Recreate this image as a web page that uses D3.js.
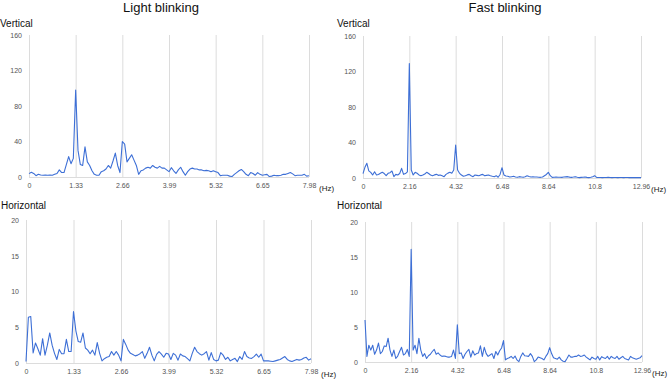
<!DOCTYPE html>
<html>
<head>
<meta charset="utf-8">
<script src="https://cdn.jsdelivr.net/npm/d3@7"></script>
<style>
  body { margin: 0; background: #fff; }
  svg { display: block; font-family: "Liberation Sans", Arial, sans-serif; }
  .grid line { stroke: #dcdcdc; stroke-width: 1; }
  .tick text { fill: #555; }
</style>
</head>
<body>
<div id="chart"></div>
<script>
// frequency grid steps (Hz per bin)
const lightStep = 0.0665;
const fastStep = 0.09;

// tick labels
const lightTicks = [0, 1.33, 2.66, 3.99, 5.32, 6.65, 7.98];
const fastTicks = [0, 2.16, 4.32, 6.48, 8.64, 10.8, 12.96];
const vertTicks = [0, 40, 80, 120, 160];
const horizTicks = [0, 5, 10, 15, 20];

// Light blinking, vertical (121 bins, 0 - 7.98 Hz)
const lightVertical = [
  3.8, 5.3, 4, 1.5, 3, 2.2, 2, 2.2, 2, 2.2,
  2, 3, 4, 8, 5, 5, 14, 23, 15, 21,
  98, 30, 14, 13, 34, 17, 13, 7, 3, 2,
  2, 6, 7, 9, 13, 10, 18, 27, 13, 5,
  40, 37, 17, 21, 25, 19, 13, 3, 7, 8,
  10, 11, 10, 13, 11, 10, 12, 10, 10, 8,
  6, 10.5, 7, 4, 8, 11, 6, 2, 6, 9,
  10, 9, 9, 8, 8, 7, 7.5, 7, 6, 7,
  6, 5, 1.5, 2, 2, 2, 1, 0.5, 3, 5,
  7, 8.5, 6, 3, 1.5, 5, 4, 2, 5, 3,
  2, 2.5, 3, 0.5, 1, 2, 1.5, 1.5, 2, 3,
  3, 4, 5, 3.5, 1.5, 2, 2, 2, 3, 1, 1.5
];

// Light blinking, horizontal
const lightHorizontal = [
  0.2, 6.4, 6.5, 1.4, 2.8, 2.0, 1.1, 3.4, 1.1, 2.5,
  4.2, 2.5, 1.35, 0.5, 1.9, 1.3, 1.3, 3.3, 1.6, 1.6,
  7.2, 4.5, 3.0, 2.9, 4.2, 2.1, 1.8, 1.3, 1.8, 1.1,
  2.85, 1.35, 0.3, 0.6, 0.8, 0.9, 1.6, 1.1, 1.6, 1.1,
  0.3, 3.3, 2.6, 1.8, 1.35, 1.2, 1.0, 1.1, 1.3, 1.6,
  0.65, 1.35, 2.2, 1.1, 0.3, 1.2, 1.6, 1.25, 0.8, 1.35,
  1.25, 0.5, 1.35, 1.1, 0.4, 1.25, 1.0, 0.9, 0.6, 0.3,
  1.35, 2.2, 1.6, 1.3, 1.1, 1.3, 1.6, 0.4, 1.45, 0.5,
  0.3, 0.4, 1.45, 1.1, 0.5, 0.8, 0.3, 0.5, 0.65, 0.2,
  0.9, 0.5, 1.6, 0.9, 0.7, 0.65, 0.9, 1.25, 0.8, 1.25,
  0.3, 0.3, 0.3, 0.25, 0.2, 0.3, 0.4, 0.5, 0.7, 0.9,
  0.5, 0.3, 0.2, 0.35, 0.5, 0.4, 0.5, 0.7, 0.8, 0.4, 0.6
];

// Fast blinking, vertical (145 bins, 0 - 12.96 Hz)
const fastVertical = [
  5, 12, 16.5, 8, 6.4, 3.4, 7, 3.4, 4, 5.3,
  6.4, 5, 2.6, 5.3, 6, 7.9, 1.5, 4.1, 3.4, 5,
  10.9, 4.1, 5, 7, 129, 9, 3.4, 6.4, 5.3, 3.5,
  2.6, 3.4, 4.5, 6.4, 5, 3.4, 2.6, 3.5, 4.1, 3,
  3.4, 2.5, 1.5, 4.1, 5.5, 6.4, 5.3, 9, 37, 9,
  5.3, 3.4, 2, 2.6, 3.5, 4.1, 2.5, 1.5, 3.4, 3,
  2.6, 3.5, 4.1, 2.6, 3, 3.4, 2.5, 1.9, 1.5, 2.6,
  0.8, 4, 11.6, 3.4, 2.2, 1.9, 1.1, 1.5, 1.9, 1.2,
  0.75, 1.5, 1.2, 0.75, 1.5, 2.6, 1.8, 1.1, 1.3, 1.1,
  1.1, 0.9, 0.75, 1.2, 2.6, 4, 6.4, 2.6, 0.75, 0.9,
  1.1, 0.9, 0.8, 0.75, 1.1, 1.3, 1.5, 1, 0.75, 1.1,
  1.5, 0.9, 0.4, 0.7, 0.9, 1.1, 0.7, 0.4, 0.9, 1.5,
  2.6, 0.75, 0.6, 0.5, 0.4, 0.6, 0.5, 0.7, 0.5, 0.4,
  0.6, 0.5, 0.4, 0.6, 0.5, 0.4, 0.5, 0.6, 0.4, 0.5,
  0.4, 0.5, 0.4, 0.5, 0.4
];

// Fast blinking, horizontal
const fastHorizontal = [
  6, 0.8, 2.4, 1.7, 2.4, 1.1, 1.7, 2.7, 1.2, 1.5,
  2.3, 2.2, 3.4, 1.7, 0.8, 1.7, 0.5, 0.85, 1.5, 2.1,
  1.0, 1.2, 1.8, 0.8, 16.1, 1.7, 2.4, 1.2, 3.4, 1.7,
  0.8, 1.2, 0.5, 0.9, 1.1, 1.5, 1.8, 1.1, 1.3, 1.0,
  0.8, 0.85, 0.8, 0.7, 0.7, 0.8, 1.7, 0.5, 5.3, 1.2,
  1.3, 0.5, 1.1, 1.5, 1.8, 0.7, 1.6, 1.0, 1.2, 1.3,
  2.3, 0.8, 2.1, 1.2, 0.8, 1.0, 1.2, 0.5, 1.5, 1.0,
  1.6, 2.0, 3.05, 0.3, 0.5, 0.6, 0.8, 0.5, 0.85, 0.3,
  0.05, 0.8, 1.3, 0.9, 0.85, 0.8, 1.2, 0.8, 0.05, 0.3,
  0.7, 0.6, 0.5, 0.3, 0.8, 1.2, 2.05, 1.2, 0.6, 0.5,
  0.4, 0.7, 0.3, 0.1, 0.05, 0.5, 1.0, 0.7, 0.7, 0.8,
  0.8, 1.0, 0.8, 0.85, 1.0, 0.7, 0.5, 0.3, 0.7, 0.5,
  0.4, 0.8, 0.3, 0.76, 0.6, 0.5, 0.8, 0.4, 0.8, 0.6,
  0.5, 0.8, 0.4, 0.6, 0.8, 0.5, 0.4, 0.3, 0.8, 0.6,
  0.5, 0.4, 0.5, 0.6, 0.9
];

const W = 669, H = 379;
const lineColor = "#3d6fd6";

const svg = d3.select("#chart").append("svg")
  .attr("width", W)
  .attr("height", H);

// column titles
svg.append("text").attr("x", 161).attr("y", 12).attr("text-anchor", "middle")
  .style("font-size", "13px").style("fill", "#111").text("Light blinking");
svg.append("text").attr("x", 505).attr("y", 12).attr("text-anchor", "middle")
  .style("font-size", "13px").style("fill", "#111").text("Fast blinking");

function drawPanel(p) {
  let g = svg.append("g");

  let x = d3.scaleLinear().domain([0, p.xTicks[p.xTicks.length - 1]]).range([p.x0, p.x1]);
  let y = d3.scaleLinear().domain([0, p.yTicks[p.yTicks.length - 1]]).range([p.y0, p.y1]);

  // panel label
  g.append("text")
    .attr("x", p.labelX).attr("y", p.labelY)
    .style("font-size", "10px").style("fill", "#111")
    .text(p.label);

  // vertical grid lines
  let grid = g.append("g")
    .attr("class", "grid")
    .attr("transform", "translate(0," + p.y0 + ")")
    .call(d3.axisBottom(x).tickValues(p.xTicks).tickSize(-(p.y0 - p.y1)).tickFormat(""));
  grid.select(".domain").remove();

  // baseline
  g.append("line")
    .attr("x1", p.x0).attr("x2", p.x1)
    .attr("y1", p.y0 + 0.5).attr("y2", p.y0 + 0.5)
    .style("stroke", "#dcdcdc");

  // x tick labels
  let xa = g.append("g")
    .attr("transform", "translate(0," + p.y0 + ")")
    .call(d3.axisBottom(x).tickValues(p.xTicks).tickSize(0).tickPadding(6).tickFormat(d => String(d)));
  xa.select(".domain").remove();
  xa.selectAll("text").style("font-size", "7px");

  // y tick labels
  let ya = g.append("g")
    .attr("transform", "translate(" + p.x0 + ",0)")
    .call(d3.axisLeft(y).tickValues(p.yTicks).tickSize(0).tickPadding(7).tickFormat(d => String(d)));
  ya.select(".domain").remove();
  ya.selectAll("text").style("font-size", "7px");

  // unit
  g.append("text")
    .attr("x", p.x1 + 10).attr("y", p.y0 + 14)
    .style("font-size", "8px").style("fill", "#222")
    .text("(Hz)");

  // spectrum line
  let line = d3.line()
    .x((d, i) => x(i * p.step))
    .y(d => y(d));

  g.append("path")
    .datum(p.values)
    .attr("d", line)
    .style("fill", "none")
    .style("stroke", lineColor)
    .style("stroke-width", 1.1)
    .style("stroke-linejoin", "round");
}

drawPanel({label: "Vertical", labelX: 0, labelY: 27, x0: 29, x1: 309, y0: 177, y1: 35,
  xTicks: lightTicks, yTicks: vertTicks, step: lightStep, values: lightVertical});
drawPanel({label: "Vertical", labelX: 337, labelY: 27, x0: 363, x1: 641, y0: 178, y1: 36,
  xTicks: fastTicks, yTicks: vertTicks, step: fastStep, values: fastVertical});
drawPanel({label: "Horizontal", labelX: 1, labelY: 209, x0: 26, x1: 311, y0: 363, y1: 220,
  xTicks: lightTicks, yTicks: horizTicks, step: lightStep, values: lightHorizontal});
drawPanel({label: "Horizontal", labelX: 337, labelY: 209, x0: 365, x1: 642, y0: 362, y1: 222,
  xTicks: fastTicks, yTicks: horizTicks, step: fastStep, values: fastHorizontal});
</script>
</body>
</html>
